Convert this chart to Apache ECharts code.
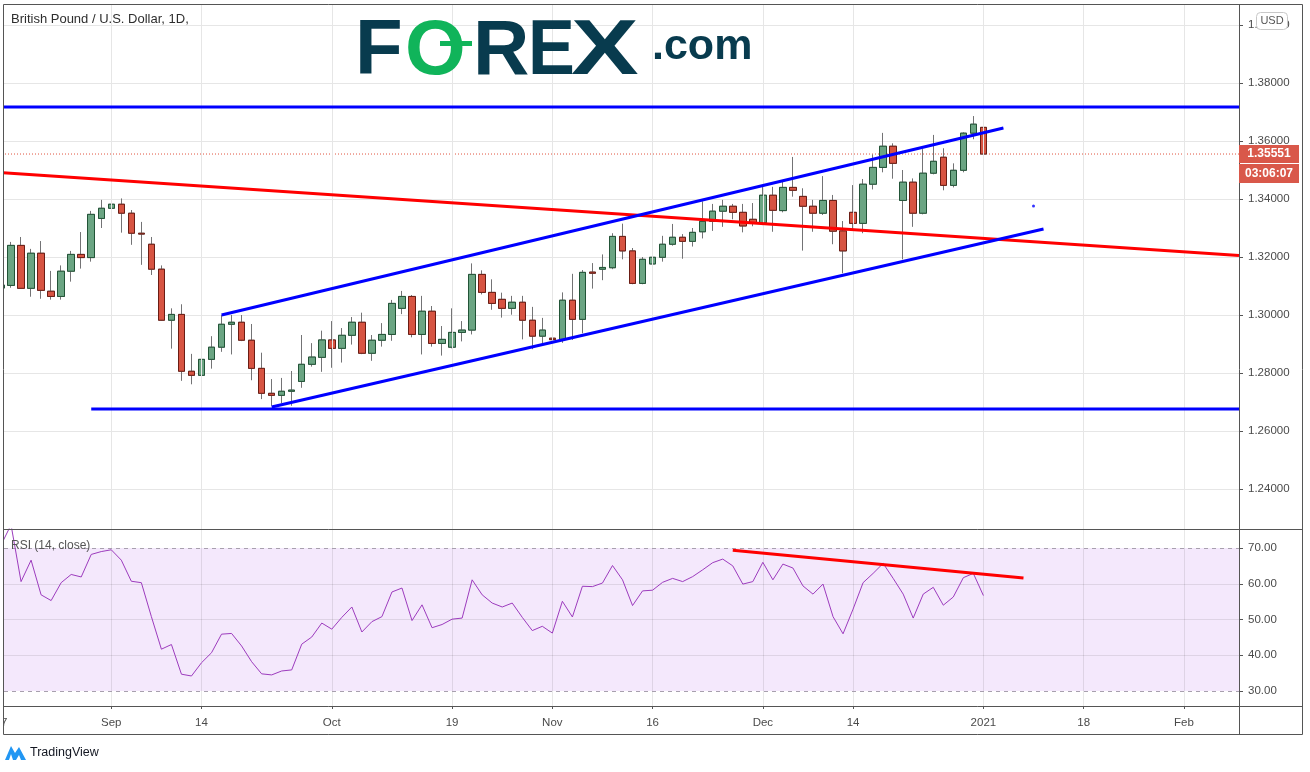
<!DOCTYPE html>
<html>
<head>
<meta charset="utf-8">
<script src="https://cdn.jsdelivr.net/npm/echarts@6.0.0/dist/echarts.min.js"></script>
<style>
html,body{margin:0;padding:0;background:#fff;}
#c{width:1310px;height:772px;}
</style>
</head>
<body>
<div id="c"></div>
<script>
// ---------------- DATA ----------------
const startDate = [2020, 7, 17];           // first trading day shown (17 Aug 2020)
const holidays = ['2020-12-25', '2021-01-01'];
const totalSlots = 124;                    // trading-day slots on the time axis (incl. future space)

const openP = [1.3093,1.3102,1.3240,1.3092,1.3213,1.3082,1.3064,1.3151,1.3209,1.3198,
1.3333,1.3368,1.3382,1.3351,1.3282,1.3244,1.3158,1.2982,1.3002,1.2806,
1.2792,1.2847,1.2889,1.2968,1.2975,1.2913,1.2816,1.2730,1.2723,1.2737,
1.2771,1.2830,1.2854,1.2914,1.2885,1.2930,1.2975,1.2868,1.2913,1.2933,
1.3023,1.3064,1.2933,1.3013,1.2902,1.2889,1.2940,1.2948,1.3140,1.3078,
1.3054,1.3023,1.3044,1.2982,1.2927,1.2920,1.2916,1.3051,1.2985,1.3148,
1.3158,1.3163,1.3271,1.3221,1.3109,1.3176,1.3199,1.3244,1.3268,1.3254,
1.3287,1.3323,1.3358,1.3375,1.3354,1.3330,1.3318,1.3413,1.3360,1.3440,
1.3409,1.3375,1.3351,1.3395,1.3290,1.3354,1.3316,1.3451,1.3509,1.3582,
1.3395,1.3458,1.3351,1.3489,1.3544,1.3447,1.3499,1.3627,1.3647];
const highP = [1.3110,1.3252,1.3269,1.3228,1.3255,1.3152,1.3171,1.3221,1.3286,1.3359,
1.3397,1.3486,1.3402,1.3362,1.3321,1.3269,1.3171,1.3023,1.3037,1.2866,
1.2920,1.2927,1.3000,1.3000,1.3000,1.2969,1.2870,1.2779,1.2783,1.2807,
1.2931,1.2903,1.2946,1.2979,1.2955,1.2993,1.3008,1.2931,1.2972,1.3052,
1.3083,1.3069,1.3066,1.3031,1.2962,1.3023,1.2979,1.3178,1.3154,1.3123,
1.3077,1.3066,1.3066,1.3028,1.2990,1.2946,1.3078,1.3142,1.3155,1.3179,
1.3209,1.3282,1.3315,1.3231,1.3200,1.3244,1.3273,1.3314,1.3279,1.3300,
1.3392,1.3383,1.3397,1.3383,1.3383,1.3386,1.3442,1.3442,1.3462,1.3545,
1.3437,1.3397,1.3479,1.3414,1.3324,1.3448,1.3469,1.3554,1.3628,1.3592,
1.3500,1.3471,1.3572,1.3621,1.3575,1.3523,1.3630,1.3686,1.3717];
const lowP = [1.3085,1.3094,1.3090,1.3063,1.3056,1.3053,1.3053,1.3115,1.3160,1.3184,
1.3300,1.3356,1.3284,1.3242,1.3173,1.3138,1.2980,1.2884,1.2773,1.2761,
1.2771,1.2815,1.2873,1.2864,1.2910,1.2775,1.2710,1.2687,1.2696,1.2687,
1.2749,1.2822,1.2804,1.2818,1.2836,1.2898,1.2865,1.2842,1.2891,1.2911,
1.3003,1.2923,1.2864,1.2891,1.2860,1.2885,1.2909,1.2933,1.3071,1.3018,
1.2991,1.3001,1.2916,1.2882,1.2902,1.2854,1.2904,1.2914,1.2937,1.3091,
1.3120,1.3158,1.3192,1.3106,1.3106,1.3170,1.3184,1.3239,1.3194,1.3236,
1.3264,1.3290,1.3304,1.3330,1.3285,1.3306,1.3310,1.3287,1.3354,1.3408,
1.3222,1.3287,1.3345,1.3244,1.3144,1.3290,1.3282,1.3433,1.3492,1.3470,
1.3192,1.3304,1.3347,1.3485,1.3430,1.3440,1.3492,1.3606,1.3538];
const closeP = [1.3103,1.3240,1.3092,1.3213,1.3085,1.3064,1.3151,1.3209,1.3198,1.3347,
1.3368,1.3382,1.3351,1.3282,1.3279,1.3158,1.2982,1.3002,1.2806,1.2792,
1.2847,1.2889,1.2968,1.2975,1.2913,1.2816,1.2730,1.2723,1.2737,1.2741,
1.2830,1.2855,1.2914,1.2885,1.2930,1.2975,1.2868,1.2913,1.2933,1.3040,
1.3064,1.2933,1.3013,1.2902,1.2916,1.2940,1.2948,1.3140,1.3078,1.3040,
1.3023,1.3044,1.2982,1.2927,1.2948,1.2915,1.3051,1.2985,1.3147,1.3144,
1.3164,1.3271,1.3221,1.3109,1.3192,1.3199,1.3244,1.3268,1.3254,1.3285,
1.3323,1.3358,1.3375,1.3354,1.3307,1.3318,1.3413,1.3361,1.3440,1.3430,
1.3375,1.3351,1.3395,1.3289,1.3221,1.3316,1.3451,1.3509,1.3582,1.3523,
1.3458,1.3351,1.3489,1.3530,1.3447,1.3499,1.3627,1.3658,1.35551];

const rsiValues = [70.8,76.5,60.6,66.6,56.9,55.3,60.3,62.6,61.9,68.2,
69.0,69.5,66.6,60.7,60.3,50.8,41.7,43.0,34.7,34.2,
37.9,40.7,45.9,46.1,42.6,38.2,34.8,34.5,35.6,35.9,
43.1,45.1,49.0,47.3,50.6,53.5,46.5,49.4,50.8,57.7,
58.8,49.7,54.1,47.7,48.6,50.1,50.4,61.1,56.9,54.6,
53.5,54.6,50.6,46.9,48.1,46.2,55.1,50.7,59.3,59.2,
60.2,65.1,61.1,53.9,58.0,58.2,60.4,61.5,60.6,62.0,
63.9,65.9,66.9,65.0,59.9,60.6,66.0,61.1,65.5,64.4,
59.4,57.1,59.9,50.8,46.0,52.9,60.3,62.9,65.7,61.5,
57.1,50.4,57.1,59.0,54.0,56.3,61.7,62.9,56.7];

const tickDates  = ['2020-08-17','2020-09-01','2020-09-14','2020-10-01','2020-10-19','2020-11-02',
                    '2020-11-16','2020-12-01','2020-12-14','2021-01-04','2021-01-18','2021-02-01'];
const tickLabels = ['17','Sep','14','Oct','19','Nov','16','Dec','14','2021','18','Feb'];

// drawn trend lines, as [slot index, price]
const resistanceLine = [[-0.5, 1.37172], [123.5, 1.37172]];
const supportLine    = [[9, 1.26759], [123.5, 1.26759]];
const channelUpper   = [[22, 1.30000], [100, 1.36448]];
const channelLower   = [[27, 1.26828], [104, 1.32966]];
const redTrendLine   = [[0.2, 1.34907], [123.5, 1.32052]];
const blueDot        = [[103, 1.3376]];
const rsiTrendLine   = [[73, 69.4], [102, 61.6]];
const rsiLevels      = [70, 60, 50, 40, 30];
const priceRange     = [1.226207, 1.406897];
const rsiRange       = [25.804, 75.315];
const countdownText  = '03:06:07';

// ---------------- BUILD ----------------
const dates = (function () {
  const out = [];
  const d = new Date(Date.UTC(startDate[0], startDate[1], startDate[2]));
  while (out.length < totalSlots) {
    const s = d.toISOString().slice(0, 10);
    const wd = d.getUTCDay();
    if (wd !== 0 && wd !== 6 && holidays.indexOf(s) < 0) out.push(s);
    d.setUTCDate(d.getUTCDate() + 1);
  }
  return out;
})();
const labelByDate = {};
tickDates.forEach((d, i) => { labelByDate[d] = tickLabels[i]; });
const tickIdx = tickDates.map(d => dates.indexOf(d));
const tickSet = new Set(tickIdx);
const gridIdx = tickIdx.filter(i => i > 0);

const candleData = openP.map((o, i) => [o, closeP[i], lowP[i], highP[i]]);
const bodyData = openP.map((o, i) => [o, closeP[i], Math.min(o, closeP[i]), Math.max(o, closeP[i])]);
const lastClose = closeP[closeP.length - 1];
const lastPriceLine = [[-0.5, lastClose], [totalSlots - 0.5, lastClose]];

const FONT = 'Liberation Sans, Arial, sans-serif';
const LBL = '#4a4a4a';
const GL = -4, GW = 1243;   // plot area: x from -4 to 1239

const chart = echarts.init(document.getElementById('c'), null, { renderer: 'canvas' });

const hiddenX = (g) => ({ type: 'value', gridIndex: g, min: -0.5, max: totalSlots - 0.5, show: false,
  axisLine: { onZero: false } });

const option = {
  animation: false,
  backgroundColor: '#ffffff',
  grid: [
    { left: GL, top: 5, width: GW, height: 524, show: false, outerBoundsMode: 'none', containLabel: false },
    { left: GL, top: 529, width: GW, height: 177, show: false, outerBoundsMode: 'none', containLabel: false }
  ],
  xAxis: [
    { type: 'category', gridIndex: 0, data: dates, boundaryGap: true,
      axisLine: { show: false, onZero: false }, axisTick: { show: false }, axisLabel: { show: false }, splitLine: { show: false } },
    { type: 'category', gridIndex: 1, data: dates, boundaryGap: true,
      axisLine: { show: false, onZero: false },
      axisTick: { show: true, alignWithLabel: true, length: 3, interval: (i) => tickSet.has(i), lineStyle: { color: '#555' } },
      axisLabel: { show: true, interval: (i) => tickSet.has(i), formatter: (v) => labelByDate[v] || '',
                   color: LBL, fontSize: 11.5, fontFamily: FONT, margin: 11, hideOverlap: false },
      splitLine: { show: false } },
    hiddenX(0),
    hiddenX(1)
  ],
  yAxis: [
    { type: 'value', gridIndex: 0, position: 'right', min: priceRange[0], max: priceRange[1],
      splitNumber: 9, minInterval: 0.02, maxInterval: 0.02,
      axisLine: { show: false, onZero: false },
      axisTick: { show: true, length: 4, lineStyle: { color: '#555' } },
      axisLabel: { formatter: v => v.toFixed(5), color: LBL, fontSize: 11.5, fontFamily: FONT, margin: 9,
                   showMinLabel: false, showMaxLabel: false, hideOverlap: false },
      splitLine: { show: true, showMinLine: false, showMaxLine: false, lineStyle: { color: '#e6e6e6', width: 1 } } },
    { type: 'value', gridIndex: 1, position: 'right', min: rsiRange[0], max: rsiRange[1],
      splitNumber: 5, minInterval: 10, maxInterval: 10,
      axisLine: { show: false, onZero: false },
      axisTick: { show: true, length: 4, lineStyle: { color: '#555' } },
      axisLabel: { formatter: v => v.toFixed(2), color: LBL, fontSize: 11.5, fontFamily: FONT, margin: 9,
                   showMinLabel: false, showMaxLabel: false, hideOverlap: false },
      splitLine: { show: false } }
  ],
  series: [
    // vertical grid lines, price pane
    { type: 'line', xAxisIndex: 2, yAxisIndex: 0, data: [], z: 1, silent: true,
      markLine: { silent: true, symbol: 'none', label: { show: false }, animation: false,
        lineStyle: { color: '#e6e6e6', width: 1, type: 'solid' },
        data: gridIdx.map(i => ({ xAxis: i })) } },
    // RSI band
    { type: 'line', xAxisIndex: 3, yAxisIndex: 1, data: [], z: 1, silent: true,
      markArea: { silent: true, itemStyle: { color: '#f4e8fc' },
        data: [[{ yAxis: rsiLevels[4] }, { yAxis: rsiLevels[0] }]] } },
    // RSI grid lines
    { type: 'line', xAxisIndex: 3, yAxisIndex: 1, data: [], z: 2, silent: true,
      markLine: { silent: true, symbol: 'none', label: { show: false }, animation: false,
        lineStyle: { color: 'rgba(0,0,0,0.09)', width: 1, type: 'solid' },
        data: gridIdx.map(i => ({ xAxis: i })).concat(rsiLevels.slice(1, 4).map(v => ({ yAxis: v }))) } },
    // RSI 70 / 30 dashed
    { type: 'line', xAxisIndex: 3, yAxisIndex: 1, data: [], z: 2, silent: true,
      markLine: { silent: true, symbol: 'none', label: { show: false }, animation: false,
        lineStyle: { color: '#a8a0ae', width: 1, type: [4, 4] },
        data: [{ yAxis: rsiLevels[0] }, { yAxis: rsiLevels[4] }] } },
    // last price dotted line
    { type: 'line', xAxisIndex: 2, yAxisIndex: 0, data: lastPriceLine, z: 2, silent: true, showSymbol: false,
      lineStyle: { color: '#e0533f', width: 1, type: [1, 2] } },
    // candles: wicks
    { type: 'candlestick', xAxisIndex: 0, yAxisIndex: 0, data: candleData, barWidth: 7, z: 3, silent: true,
      itemStyle: { color: '#6ba583', color0: '#d75442', borderColor: '#737375', borderColor0: '#737375', borderWidth: 1 } },
    // candles: bodies
    { type: 'candlestick', xAxisIndex: 0, yAxisIndex: 0, data: bodyData, barWidth: 7, z: 4, silent: true,
      itemStyle: { color: '#6ba583', color0: '#d75442', borderColor: '#225437', borderColor0: '#6b1d14', borderWidth: 1 } },
    // trend lines
    { type: 'line', xAxisIndex: 2, yAxisIndex: 0, data: redTrendLine, z: 5, silent: true, showSymbol: false,
      lineStyle: { color: '#ff0000', width: 3 } },
    { type: 'line', xAxisIndex: 2, yAxisIndex: 0, data: resistanceLine, z: 5, silent: true, showSymbol: false,
      lineStyle: { color: '#0000ff', width: 3 } },
    { type: 'line', xAxisIndex: 2, yAxisIndex: 0, data: supportLine, z: 5, silent: true, showSymbol: false,
      lineStyle: { color: '#0000ff', width: 3 } },
    { type: 'line', xAxisIndex: 2, yAxisIndex: 0, data: channelUpper, z: 5, silent: true, showSymbol: false,
      lineStyle: { color: '#0000ff', width: 3 } },
    { type: 'line', xAxisIndex: 2, yAxisIndex: 0, data: channelLower, z: 5, silent: true, showSymbol: false,
      lineStyle: { color: '#0000ff', width: 3 } },
    { type: 'scatter', xAxisIndex: 2, yAxisIndex: 0, data: blueDot, z: 5, silent: true, symbolSize: 3,
      itemStyle: { color: '#0000ff' } },
    // RSI line
    { type: 'line', xAxisIndex: 1, yAxisIndex: 1, data: rsiValues, z: 5, silent: true, showSymbol: false,
      lineStyle: { color: '#9c3bbd', width: 1 } },
    { type: 'line', xAxisIndex: 3, yAxisIndex: 1, data: rsiTrendLine, z: 6, silent: true, showSymbol: false,
      lineStyle: { color: '#ff0000', width: 3 } }
  ]
};
chart.setOption(option);

// ----- decorations (frame, titles, logo, price label) -----
const yLast = Math.round(chart.convertToPixel({ yAxisIndex: 0 }, lastClose));
const DARK = '#083b4e', GREEN = '#10b45a';
const logoFont = 'bold 78px "Liberation Sans", Arial, sans-serif';
const graphics = [
  // left mask outside frame
  { type: 'rect', shape: { x: 0, y: 0, width: 3, height: 772 }, style: { fill: '#fff' }, z: 100 },
  // outer frame
  { type: 'rect', shape: { x: 3.5, y: 4.5, width: 1299, height: 730 }, style: { fill: 'none', stroke: '#555', lineWidth: 1 }, z: 101 },
  { type: 'line', shape: { x1: 3.5, y1: 529.5, x2: 1302.5, y2: 529.5 }, style: { stroke: '#555', lineWidth: 1 }, z: 101 },
  { type: 'line', shape: { x1: 3.5, y1: 706.5, x2: 1302.5, y2: 706.5 }, style: { stroke: '#555', lineWidth: 1 }, z: 101 },
  { type: 'line', shape: { x1: 1239.5, y1: 4.5, x2: 1239.5, y2: 734.5 }, style: { stroke: '#555', lineWidth: 1 }, z: 101 },
  // title
  { type: 'text', x: 11, y: 19, z: 102, style: { text: 'British Pound / U.S. Dollar, 1D,', fill: '#2e2e2e',
      font: '13px "Liberation Sans", Arial, sans-serif', verticalAlign: 'middle', align: 'left' } },
  // RSI title
  { type: 'text', x: 11, y: 546, z: 102, style: { text: 'RSI (14, close)', fill: '#555',
      font: '12px "Liberation Sans", Arial, sans-serif', verticalAlign: 'middle', align: 'left' } },
  // FOREX.com logo
  { type: 'text', x: 355, y: 52, z: 102, style: { text: 'F', fill: DARK, font: logoFont, verticalAlign: 'middle' } },
  { type: 'text', x: 405, y: 52, z: 102, style: { text: 'O', fill: GREEN, font: logoFont, verticalAlign: 'middle' } },
  { type: 'rect', shape: { x: 440, y: 41, width: 32, height: 5 }, style: { fill: GREEN }, z: 102 },
  { type: 'text', x: 473, y: 52, z: 102, style: { text: 'R', fill: DARK, font: logoFont, verticalAlign: 'middle' } },
  { type: 'text', x: 528, y: 52, z: 102, scaleX: 0.9, style: { text: 'E', fill: DARK, font: logoFont, verticalAlign: 'middle' } },
  { type: 'text', x: 571, y: 52, z: 102, scaleX: 1.3, style: { text: 'X', fill: DARK, font: logoFont, verticalAlign: 'middle' } },
  { type: 'text', x: 652, y: 47, z: 102, style: { text: '.com', fill: DARK, font: 'bold 43px "Liberation Sans", Arial, sans-serif', verticalAlign: 'middle' } },
  // USD badge
  { type: 'rect', shape: { x: 1256.5, y: 12.5, width: 31, height: 17, r: 4 }, style: { fill: '#fff', stroke: '#c8c8c8', lineWidth: 1 }, z: 103 },
  { type: 'text', x: 1272, y: 21, z: 104, style: { text: 'USD', fill: '#555', font: '11px "Liberation Sans", Arial, sans-serif', align: 'center', verticalAlign: 'middle' } },
  // last price + countdown
  { type: 'rect', shape: { x: 1239, y: yLast - 9, width: 60, height: 18 }, style: { fill: '#d9584a' }, z: 103 },
  { type: 'text', x: 1269, y: yLast, z: 104, style: { text: lastClose.toFixed(5), fill: '#fff', font: 'bold 12px "Liberation Sans", Arial, sans-serif', align: 'center', verticalAlign: 'middle' } },
  { type: 'rect', shape: { x: 1239, y: yLast + 10, width: 60, height: 19 }, style: { fill: '#d9584a' }, z: 103 },
  { type: 'text', x: 1269, y: yLast + 20, z: 104, style: { text: countdownText, fill: '#fff', font: 'bold 12px "Liberation Sans", Arial, sans-serif', align: 'center', verticalAlign: 'middle' } },
  // TradingView logo
  { type: 'polygon', shape: { points: [[5, 760], [11, 746], [15, 753], [19, 747], [26, 760], [21, 760], [19, 755], [16, 760], [13, 760], [11, 754], [9, 760]] },
    style: { fill: '#2196f3' }, z: 102 },
  { type: 'text', x: 30, y: 753, z: 102, style: { text: 'TradingView', fill: '#131722', font: '12.5px "Liberation Sans", Arial, sans-serif', verticalAlign: 'middle' } }
];
chart.setOption({ graphic: graphics });
</script>
</body>
</html>
